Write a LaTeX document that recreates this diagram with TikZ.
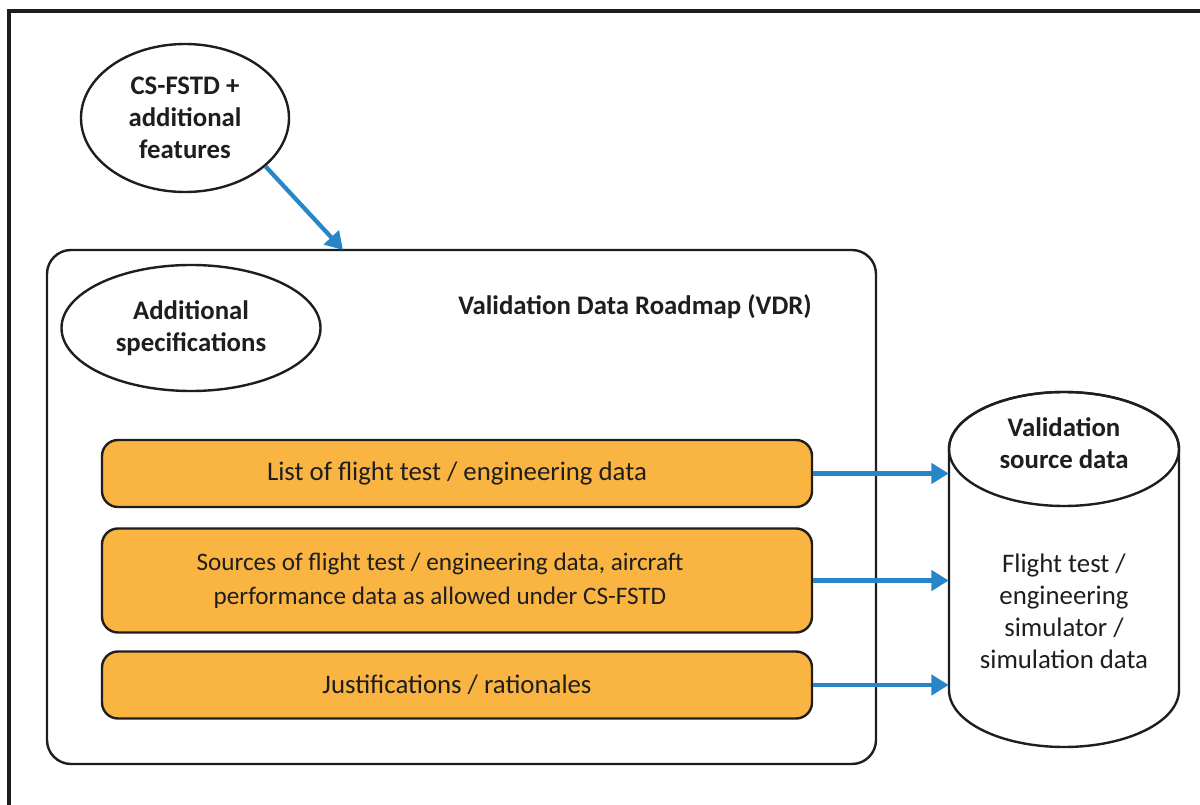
\documentclass[tikz,border=0pt]{standalone}
\usepackage{fontspec}
\setmainfont{Carlito}
\usetikzlibrary{shapes.geometric,arrows.meta}
\definecolor{boxorange}{RGB}{250,180,66}
\definecolor{arrowblue}{RGB}{38,134,200}
\definecolor{inkdark}{RGB}{30,30,30}
\tikzset{
  txt/.style={font=\fontsize{20.1}{24}\selectfont, text=inkdark, align=center},
  btxt/.style={font=\fontsize{20.1}{24}\selectfont\bfseries, text=inkdark, align=center},
  ellnode/.style={ellipse, draw=inkdark, line width=1.8pt, fill=white, inner sep=0pt},
  orangebox/.style={rectangle, rounded corners=12pt, draw=inkdark, line width=1.8pt, fill=boxorange,
     minimum width=532.5pt, inner sep=0pt},
  bluearrow/.style={draw=arrowblue, line width=3.2pt, -{Triangle[length=13pt,width=15pt]}},
}
\begin{document}
\begin{tikzpicture}[x=0.75pt,y=-0.75pt]
\useasboundingbox (0,0) rectangle (1200,805);
\clip (0,0) rectangle (1200,805);
% outer frame
\draw[line width=2.4pt, draw=inkdark] (9,11) rectangle (1220,830);
% VDR container
\node[rectangle, rounded corners=18pt, draw=inkdark, line width=1.8pt, fill=white,
      minimum width=621.75pt, minimum height=385.5pt, inner sep=0pt] (vdr) at (461.5,507) {};
\node[btxt] (vdrtitle) at (635,307) {Validation Data Roadmap (VDR)};
% ellipses
\node[ellnode, btxt, minimum width=156pt, minimum height=111pt] (csfstd) at (185,118)
  {CS-FSTD +\\additional\\features};
\node[ellnode, btxt, minimum width=194.25pt, minimum height=94.5pt] (addspec) at (191,328)
  {Additional\\specifications};
% orange boxes
\node[orangebox, txt, minimum height=50.25pt] (b1) at (457,473.5) {List of flight test / engineering data};
\node[orangebox, txt, font=\fontsize{18.9}{26}\selectfont, minimum height=78pt] (b2) at (457,580.5)
  {\begin{tabular}{@{}c@{}}Sources of flight test / engineering data, aircraft\\performance data as allowed under CS-FSTD\end{tabular}\hspace*{25.5pt}};
\node[orangebox, txt, minimum height=50.25pt] (b3) at (457,685) {Justifications / rationales};
% cylinder (frame node + drawn shape)
\node[rectangle, minimum width=172.5pt, minimum height=266.25pt, inner sep=0pt] (cyl) at (1064,569.5) {};
\draw[draw=inkdark, line width=1.8pt, fill=white]
  (949,449) -- (949,690) arc[start angle=180, end angle=360, x radius=86.25pt, y radius=42.75pt] -- (1179,449)
  arc[start angle=0, end angle=180, x radius=86.25pt, y radius=42.75pt] -- cycle;
\draw[draw=inkdark, line width=1.8pt] (1064,449) ellipse [x radius=86.25pt, y radius=42.75pt];
\node[btxt] (cyltop) at (1064,443) {Validation\\source data};
\node[txt] (cylbody) at (1064,611) {Flight test /\\engineering\\simulator /\\simulation data};
% connectors
\coordinate (vdrentry) at (343,250);
\draw[bluearrow] (csfstd.-31.5) -- (vdrentry);
\draw[bluearrow] (b1.east) -- (b1.east -| cyl.west);
\draw[bluearrow] (b2.east) -- (b2.east -| cyl.west);
\draw[bluearrow] (b3.east) -- (b3.east -| cyl.west);
\end{tikzpicture}
\end{document}
